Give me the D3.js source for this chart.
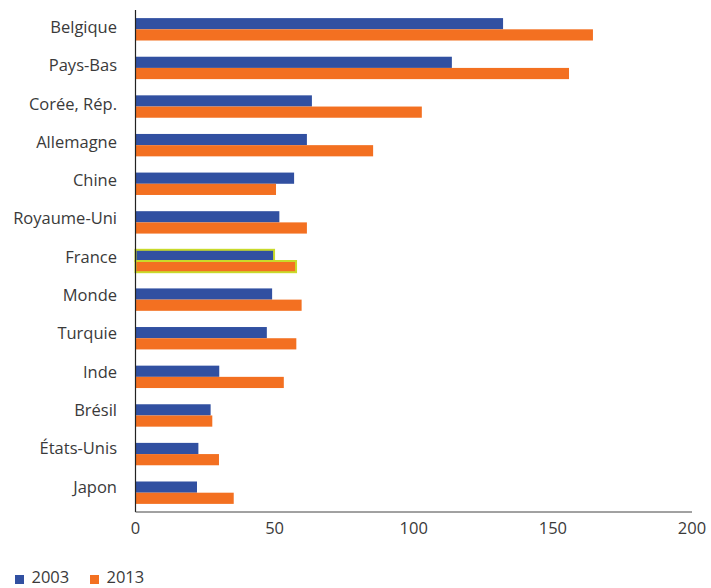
<!DOCTYPE html>
<html>
<head>
<meta charset="utf-8">
<script src="https://cdn.jsdelivr.net/npm/d3@7"></script>
<style>
  body { margin: 0; background: #fff; }
  svg { display: block; font-family: "Open Sans", "Noto Sans", sans-serif; }
  .cat-label { fill: #3a3a3a; font-size: 16.5px; }
  .tick-label { fill: #3a3a3a; font-size: 16.5px; }
  .legend-text { fill: #3a3a3a; font-size: 16.5px; }
</style>
</head>
<body>
<div id="chart"></div>
<script>
const countries = ["Belgique", "Pays-Bas", "Corée, Rép.", "Allemagne", "Chine", "Royaume-Uni",
  "France", "Monde", "Turquie", "Inde", "Brésil", "États-Unis", "Japon"];
const values2003 = [132.1, 113.7, 63.4, 61.6, 57.0, 51.7, 49.8, 49.1, 47.2, 30.1, 27.0, 22.6, 22.1];
const values2013 = [164.4, 155.8, 102.9, 85.4, 50.5, 61.6, 57.7, 59.7, 57.8, 53.3, 27.6, 30.0, 35.3];
const seriesNames = ["2003", "2013"];
const xTicks = [0, 50, 100, 150, 200];
const highlighted = "France";

const W = 711, H = 588;
const m = { top: 10, right: 19, bottom: 76, left: 135.5 };
const colors = { "2003": "#3150a1", "2013": "#f37021" };

const rows = countries.map((c, i) => ({ country: c, "2003": values2003[i], "2013": values2013[i] }));

const svg = d3.select("#chart").append("svg")
  .attr("width", W)
  .attr("height", H);

const x = d3.scaleLinear().domain([0, 200]).range([m.left, W - m.right]);
const y = d3.scaleBand().domain(countries).range([m.top, H - m.bottom]).paddingInner(0.42).paddingOuter(0.21);
const ySub = d3.scaleBand().domain(seriesNames).range([0, y.bandwidth()]);
// Excel-like label placement, slightly tighter than the bars
const yLabel = d3.scalePoint().domain(countries).range([33, 492.5]);

const groups = svg.selectAll(".group")
  .data(rows)
  .join("g")
  .attr("class", "group")
  .attr("transform", d => `translate(0,${y(d.country)})`);

groups.selectAll("rect")
  .data(d => seriesNames.map(s => ({ country: d.country, key: s, value: d[s] })))
  .join("rect")
  .attr("x", x(0))
  .attr("y", d => ySub(d.key))
  .attr("width", d => x(d.value) - x(0))
  .attr("height", ySub.bandwidth())
  .attr("fill", d => colors[d.key])
  .attr("stroke", d => d.country === highlighted ? "#c9da2b" : "none")
  .attr("stroke-width", 2);

// category labels
svg.selectAll(".cat-label")
  .data(countries)
  .join("text")
  .attr("class", "cat-label")
  .attr("x", 117)
  .attr("y", d => yLabel(d))
  .attr("text-anchor", "end")
  .text(d => d);

// axes
const yBottom = H - m.bottom;
svg.append("line")
  .attr("x1", x(0)).attr("x2", x(0))
  .attr("y1", m.top).attr("y2", yBottom)
  .attr("stroke", "#222").attr("stroke-width", 1.2);
svg.append("line")
  .attr("x1", x(0)).attr("x2", x(200))
  .attr("y1", yBottom).attr("y2", yBottom)
  .attr("stroke", "#444").attr("stroke-width", 1);

svg.selectAll(".tick-label")
  .data(xTicks)
  .join("text")
  .attr("class", "tick-label")
  .attr("x", d => x(d))
  .attr("y", yBottom + 22.3)
  .attr("text-anchor", "middle")
  .text(d => d);

// legend
const legend = svg.append("g").attr("transform", "translate(15,583)");
const legItems = legend.selectAll("g")
  .data(seriesNames)
  .join("g")
  .attr("transform", (d, i) => `translate(${i * 75},0)`);
legItems.append("rect")
  .attr("x", 0).attr("y", -8)
  .attr("width", 9).attr("height", 9)
  .attr("fill", d => colors[d]);
legItems.append("text")
  .attr("class", "legend-text")
  .attr("x", 16.5)
  .attr("y", 0)
  .text(d => d);
</script>
</body>
</html>
